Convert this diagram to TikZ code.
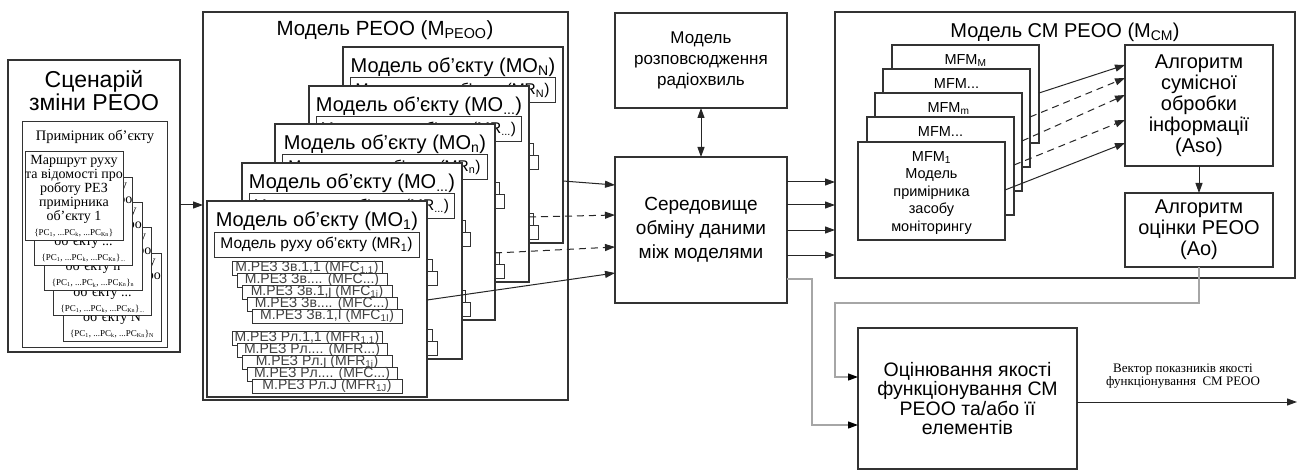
\documentclass[tikz,border=0pt]{standalone}
\usepackage{fontspec}
\setmainfont{Liberation Serif}
\setsansfont{Liberation Sans}
\usetikzlibrary{arrows.meta,calc}
\newcommand\fs[2]{\fontsize{#1}{#2}\selectfont}
\newcommand\sub[1]{\textsubscript{#1}}

\tikzset{
  boxed/.style={draw=black!80, line width=1.2pt, fill=white, inner sep=0pt, outer sep=0pt, anchor=north west, align=center},
  sheet/.style={boxed, line width=1.1pt},
  stackbox/.style={boxed, line width=0.9pt, minimum width=150, minimum height=14, text=black!75, font=\sffamily\fs{14}{14}},
  arr/.style={draw=black!85, line width=1pt, -{Triangle[length=10pt,width=7pt]}},
  dsh/.style={arr, dash pattern=on 7pt off 5pt},
  dbl/.style={draw=black!85, line width=1pt, {Triangle[length=10pt,width=7pt]}-{Triangle[length=10pt,width=7pt]}},
  fb/.style={draw=black!35, line width=1.2pt, -{Triangle[length=10pt,width=7pt,color=black]}},
}

% one object model: frame, title, motion model and two stacks of emitter models
\newcommand\mocard[3]{%
  \begin{scope}[shift={(#2)}]
    \node[sheet, minimum width=220, minimum height=196] (#1) at (0,0) {};
    \node[font=\sffamily\fs{20}{22}] (#1-t) at (110,20) {Модель об'єкту (MO\sub{#3})};
    \node[boxed, line width=1pt, minimum width=205, minimum height=25, font=\sffamily\fs{15.5}{17}] (#1-mr) at (7,31) {Модель руху об'єкту (MR\sub{#3})};
    \node[stackbox] (#1-c1) at (25,60) {М.РЕЗ Зв.1,1 (MFC\sub{1,1})};
    \node[stackbox] (#1-c2) at (30,72) {М.РЕЗ Зв.... (MFC...)};
    \node[stackbox] (#1-c3) at (35,84) {М.РЕЗ Зв.1,j (MFC\sub{1j})};
    \node[stackbox] (#1-c4) at (40,96) {М.РЕЗ Зв.... (MFC...)};
    \node[stackbox] (#1-c5) at (45,108) {М.РЕЗ Зв.1,I (MFC\sub{1I})};
    \node[stackbox] (#1-r1) at (25,130) {М.РЕЗ Рл.1,1 (MFR\sub{1,1})};
    \node[stackbox] (#1-r2) at (30,142) {М.РЕЗ Рл.... (MFR...)};
    \node[stackbox] (#1-r3) at (35,154) {М.РЕЗ Рл.j (MFR\sub{1j})};
    \node[stackbox] (#1-r4) at (40,166) {М.РЕЗ Рл.... (MFC...)};
    \node[stackbox] (#1-r5) at (45,178) {М.РЕЗ Рл.J (MFR\sub{1J})};
  \end{scope}}

% one route card of an object instance
\newcommand\route[4]{%
  \node[sheet, line width=1pt, minimum width=98, minimum height=88, font=\rmfamily\fs{14}{14}] (#1) at (#2)
    {Маршрут руху\\та відомості про\\роботу РЕЗ\\примірника\\об'єкту #3\\[1pt]{\fs{9}{10}\{PC\sub{1}, ...PC\sub{k}, ...PC\sub{Kn}\}\sub{#4}}};}

% one monitoring-tool model card
\newcommand\mfm[3]{%
  \node[sheet, minimum width=147, minimum height=98] (#1) at (#2) {};
  \node[anchor=north, inner sep=0pt, font=\sffamily\fs{14.5}{17.5}, align=center] (#1-t) at ($(#1.north)+(0,9)$)
    {MFM#3\\Модель\\примірника\\засобу\\моніторингу};}

\begin{document}
\begin{tikzpicture}[x=1pt,y=-1pt,font=\sffamily]
\useasboundingbox (0,0) rectangle (1298,473);

% scenario of the environment change
\node[boxed, minimum width=172, minimum height=292] (scen) at (8,60) {};
\node[font=\sffamily\fs{23}{23}, align=center] (scent) at (94,91) {Сценарій\\зміни РЕОО};
\node[boxed, line width=1pt, minimum width=145, minimum height=225] (inst) at (22,122) {};
\node[font=\rmfamily\fs{14.5}{16}] (instt) at (95,137) {Примірник об'єкту};
\route{rt5}{63,253.2}{N}{N}
\route{rt4}{53.5,227.9}{...}{...}
\route{rt3}{44,202.6}{n}{n}
\route{rt2}{34.5,177.3}{...}{...}
\route{rt1}{25,152}{1}{}

% model of the environment
\node[boxed, minimum width=365, minimum height=388] (peoo) at (203,12) {};
\node[font=\sffamily\fs{20.5}{22}] (peoot) at (385,30) {Модель РЕОО (M\sub{РЕОО})};
\mocard{mo5}{343,47}{N}
\mocard{mo4}{309,86}{...}
\mocard{mo3}{275,124}{n}
\mocard{mo2}{242,163}{...}
\mocard{mo1}{207,201}{1}

% propagation model and data exchange
\node[boxed, minimum width=172, minimum height=95, font=\sffamily\fs{17}{21}] (rad) at (615,13) {Модель\\розповсюдження\\радіохвиль};
\node[boxed, minimum width=172, minimum height=146, font=\sffamily\fs{19}{24}] (mid) at (615,157) {Середовище\\обміну даними\\між моделями};

% model of the monitoring system
\node[boxed, minimum width=460, minimum height=266] (cm) at (835,12) {};
\node[font=\sffamily\fs{20}{22}] (cmt) at (1065,32) {Модель СМ РЕОО (M\sub{СМ})};
\mfm{f5}{892,45}{\sub{M}}
\mfm{f4}{883,69}{...}
\mfm{f3}{875,93}{\sub{m}}
\mfm{f2}{867,117}{...}
\mfm{f1}{858,142}{\sub{1}}
\node[boxed, minimum width=148, minimum height=121, font=\sffamily\fs{20}{21}] (aso) at (1125,45) {Алгоритм\\сумісної\\обробки\\інформації\\(Aso)};
\node[boxed, minimum width=148, minimum height=74, font=\sffamily\fs{20}{21}] (ao) at (1125,193) {Алгоритм\\оцінки РЕОО\\(Ao)};

% quality assessment
\node[boxed, minimum width=219, minimum height=141, font=\sffamily\fs{19.5}{19.5}] (q) at (858,328) {Оцінювання якості\\функціонування СМ\\РЕОО та/або її\\елементів};

% connectors
\draw[arr] ($(scen.north east)+(0,145)$) -- ($(peoo.north west)+(0,193)$);

\draw[arr] ($(mo5.north east)+(0,134)$) -- ($(mid.north west)+(0,28)$);
\draw[dsh] ($(mo4.north east)+(0,131)$) -- ($(mid.north west)+(0,58)$);
\draw[dsh] ($(mo3.north east)+(0,129)$) -- ($(mid.north west)+(0,90)$);
\draw[arr] ($(mo1.north east)+(0,99)$) -- ($(mid.north west)+(0,116)$);

\draw[dbl] (rad) -- (mid);

\foreach \a/\b in {25/170, 48/193, 73/218, 98/243}
  \draw[arr] ($(mid.north east)+(0,\a)$) -- ($(cm.north west)+(0,\b)$);

\draw[arr] ($(f5.north east)+(0,48)$) -- ($(aso.north west)+(0,20)$);
\draw[dsh] ($(f4.north east)+(0,48)$) -- ($(aso.north west)+(0,33)$);
\draw[dsh] ($(f3.north east)+(0,48)$) -- ($(aso.north west)+(0,50)$);
\draw[dsh] ($(f2.north east)+(0,48)$) -- ($(aso.north west)+(0,75)$);
\draw[arr] ($(f1.north east)+(0,48)$) -- ($(aso.north west)+(0,98)$);

\draw[arr] (aso) -- (ao);

\coordinate (k1) at (835,303);
\draw[fb] (ao.south) |- (k1) |- ($(q.north west)+(0,49)$);
\coordinate (k2) at (812,279);
\draw[fb] ($(mid.north east)+(0,122)$) -- (k2) |- ($(q.north west)+(0,97)$);

\coordinate (outend) at (1297,402);
\draw[arr] (q.east |- outend) -- (outend);
\node[font=\rmfamily\fs{13}{13}, align=center] (outl) at (1183,376) {Вектор показників якості\\функціонування\ \ СМ РЕОО};
\end{tikzpicture}
\end{document}
